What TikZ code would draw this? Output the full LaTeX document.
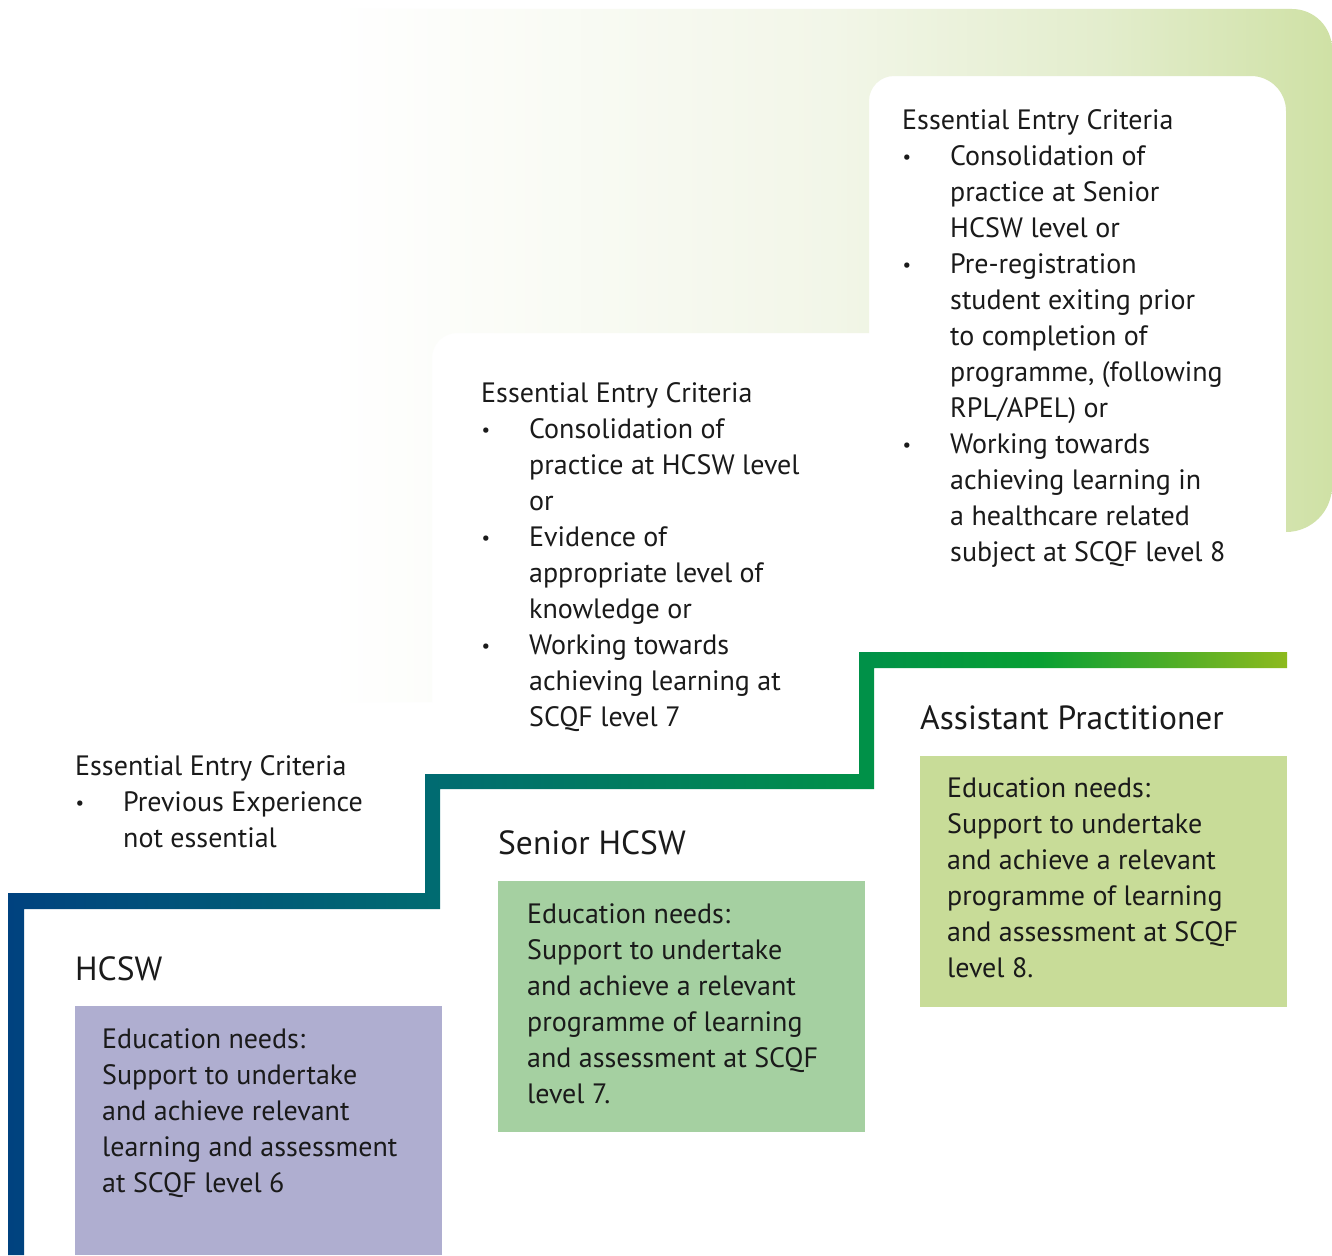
\documentclass[tikz,border=0pt]{standalone}
\usepackage{fontspec}
\setmainfont{PT Sans}
\definecolor{bgA}{HTML}{FFFFFF}
\definecolor{bgB}{HTML}{F2F6E8}
\definecolor{bgC}{HTML}{E3EDCD}
\definecolor{bgD}{HTML}{CFE1A5}
\definecolor{lnA}{HTML}{00427F}
\definecolor{lnB}{HTML}{006B71}
\definecolor{lnC}{HTML}{009148}
\definecolor{lnD}{HTML}{08A033}
\definecolor{lnE}{HTML}{8DBA1E}
\definecolor{boxH}{HTML}{AFAED0}
\definecolor{boxS}{HTML}{A5D0A1}
\definecolor{boxA}{HTML}{C8DC98}
\definecolor{ink}{HTML}{1A1A1A}
\pgfdeclarehorizontalshading{bggrad}{100bp}{color(0bp)=(bgA); color(25bp)=(bgA); color(50bp)=(bgB); color(63.5bp)=(bgC); color(75bp)=(bgD); color(100bp)=(bgD)}
\pgfdeclarehorizontalshading{lngrad}{100bp}{color(0bp)=(lnA); color(25bp)=(lnA); color(41.6bp)=(lnB); color(58.5bp)=(lnC); color(65.3bp)=(lnD); color(75bp)=(lnE); color(100bp)=(lnE)}
\newcommand\critbul{\makebox[48pt][l]{\hspace{0.5pt}\raisebox{2pt}{\fontsize{19}{19}\selectfont\textbullet}}}
\newcommand\critind{\hspace*{48pt}}
\begin{document}
\begin{tikzpicture}[x=1pt,y=-1pt,
  crit/.style={anchor=base west, inner sep=0pt, font=\fontsize{28}{36}\selectfont, text=ink},
  ttl/.style={anchor=base west, inner sep=0pt, font=\fontsize{33.5}{40}\selectfont, text=ink},
  panel/.style={anchor=north west, inner sep=0pt, draw=none, minimum width=367pt}]
\useasboundingbox (0,0) rectangle (1332,1255);
\fill[white] (0,0) rectangle (1332,1255);
% background gradient staircase
\shade[shading=bggrad] (330,9) -- (1292,9)
  .. controls (1314.1,9) and (1332,26.9) .. (1332,49)
  -- (1332,486)
  .. controls (1332,511.4) and (1311.4,532) .. (1286,532)
  -- (1286,111)
  .. controls (1286,91.7) and (1270.3,76) .. (1251,76)
  -- (894,76)
  .. controls (880.2,76) and (869,87.2) .. (869,101)
  -- (869,333) -- (457,333)
  .. controls (443.2,333) and (432,344.2) .. (432,358)
  -- (432,702) -- (330,702) -- cycle;
% step line
\shade[shading=lngrad] (8,1255) -- (8,893) -- (425,893) -- (425,774) -- (859,774) -- (859,652)
  -- (1287,652) -- (1287,668) -- (874,668) -- (874,789) -- (440,789) -- (440,909)
  -- (24,909) -- (24,1255) -- cycle;
% panels
\node[panel, fill=boxH, minimum height=249pt] (hbox) at (75,1006) {};
\node[panel, fill=boxS, minimum height=251pt] (sbox) at (498,881) {};
\node[panel, fill=boxA, minimum height=251pt] (abox) at (920,756) {};
% titles
\node[ttl] (htitle) at (75,980) {HCSW};
\node[ttl] (stitle) at (498,854) {Senior HCSW};
\node[ttl] (atitle) at (920,729) {Assistant Practitioner};
% education needs
\node[crit] (htext) at (102,1048) {\parbox[t]{420pt}{\raggedright Education needs:\\ Support to undertake\\ and achieve relevant\\ learning and assessment\\ at SCQF level 6}};
\node[crit] (stext) at (527,923) {\parbox[t]{420pt}{\raggedright Education needs:\\ Support to undertake\\ and achieve a relevant\\ programme of learning\\ and assessment at SCQF\\ level 7.}};
\node[crit] (atext) at (947,797) {\parbox[t]{420pt}{\raggedright Education needs:\\ Support to undertake\\ and achieve a relevant\\ programme of learning\\ and assessment at SCQF\\ level 8.}};
% entry criteria
\node[crit] (hcrit) at (75,775) {\parbox[t]{420pt}{\raggedright Essential Entry Criteria\\ \critbul Previous Experience\\ \critind not essential}};
\node[crit] (scrit) at (481,402) {\parbox[t]{420pt}{\raggedright Essential Entry Criteria\\ \critbul Consolidation of\\ \critind practice at HCSW level\\ \critind or\\ \critbul Evidence of\\ \critind appropriate level of\\ \critind knowledge or\\ \critbul Working towards\\ \critind achieving learning at\\ \critind SCQF level 7}};
\node[crit] (acrit) at (902,129) {\parbox[t]{420pt}{\raggedright Essential Entry Criteria\\ \critbul Consolidation of\\ \critind practice at Senior\\ \critind HCSW level or\\ \critbul Pre-registration\\ \critind student exiting prior\\ \critind to completion of\\ \critind programme, (following\\ \critind RPL/APEL) or\\ \critbul Working towards\\ \critind achieving learning in\\ \critind a healthcare related\\ \critind subject at SCQF level 8}};
\end{tikzpicture}
\end{document}
